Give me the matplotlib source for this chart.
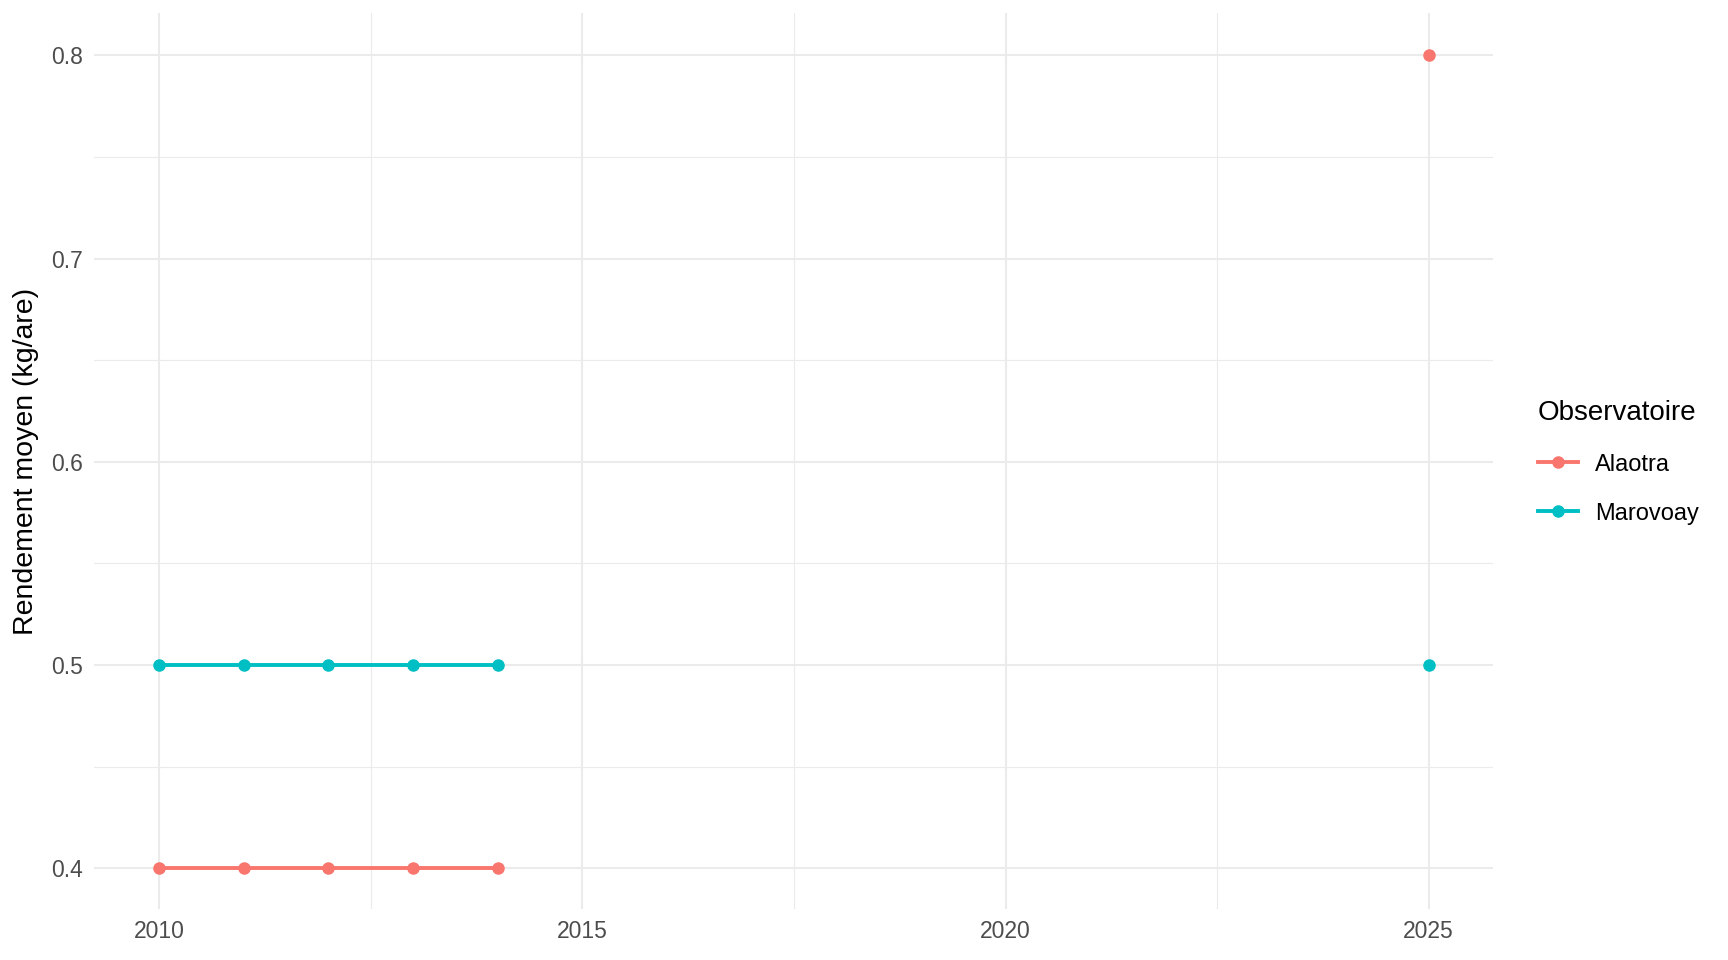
import numpy as np
import matplotlib.pyplot as plt

plt.rcParams['font.family'] = ['Liberation Sans', 'DejaVu Sans']

years = [2010, 2011, 2012, 2013, 2014, 2015, 2025]
alaotra = [0.4, 0.4, 0.4, 0.4, 0.4, np.nan, 0.8]
marovoay = [0.5, 0.5, 0.5, 0.5, 0.5, np.nan, 0.5]
series_names = ['Alaotra', 'Marovoay']
colors = ['#F8766D', '#00BFC4']

fig = plt.figure(figsize=(17.28, 9.6), dpi=100)
ax = fig.add_axes([0.0544, 0.053, 0.8096, 0.933])

handles = []
for vals, name, col in zip([alaotra, marovoay], series_names, colors):
    h, = ax.plot(years, vals, color=col, lw=2.8, marker='o', ms=8, label=name)
    handles.append(h)

ax.set_xlim(2009.23, 2025.76)
ax.set_ylim(0.3798, 0.8207)
ax.set_xticks([2010, 2015, 2020, 2025])
ax.set_xticks([2012.5, 2017.5, 2022.5], minor=True)
ax.set_yticks([0.4, 0.5, 0.6, 0.7, 0.8])
ax.set_yticks([0.45, 0.55, 0.65, 0.75], minor=True)
ax.set_yticklabels(['0.4', '0.5', '0.6', '0.7', '0.8'])
ax.grid(which='major', color='#EBEBEB', lw=1.5)
ax.grid(which='minor', color='#EBEBEB', lw=0.8)
ax.set_axisbelow(True)
for s in ax.spines.values():
    s.set_visible(False)
ax.tick_params(which='both', length=0, labelsize=16.5, labelcolor='#4D4D4D', pad=8)
ax.set_ylabel('Rendement moyen (kg/are)', fontsize=20.5, labelpad=9)

leg = fig.legend(handles=handles, title='Observatoire', loc='upper left',
                 bbox_to_anchor=(0.8775, 0.605), frameon=False, fontsize=17,
                 title_fontsize=20, handlelength=1.7, labelspacing=1.15,
                 handletextpad=0.75)
leg._legend_box.align = 'left'

fig.savefig('out.png', dpi=100)
